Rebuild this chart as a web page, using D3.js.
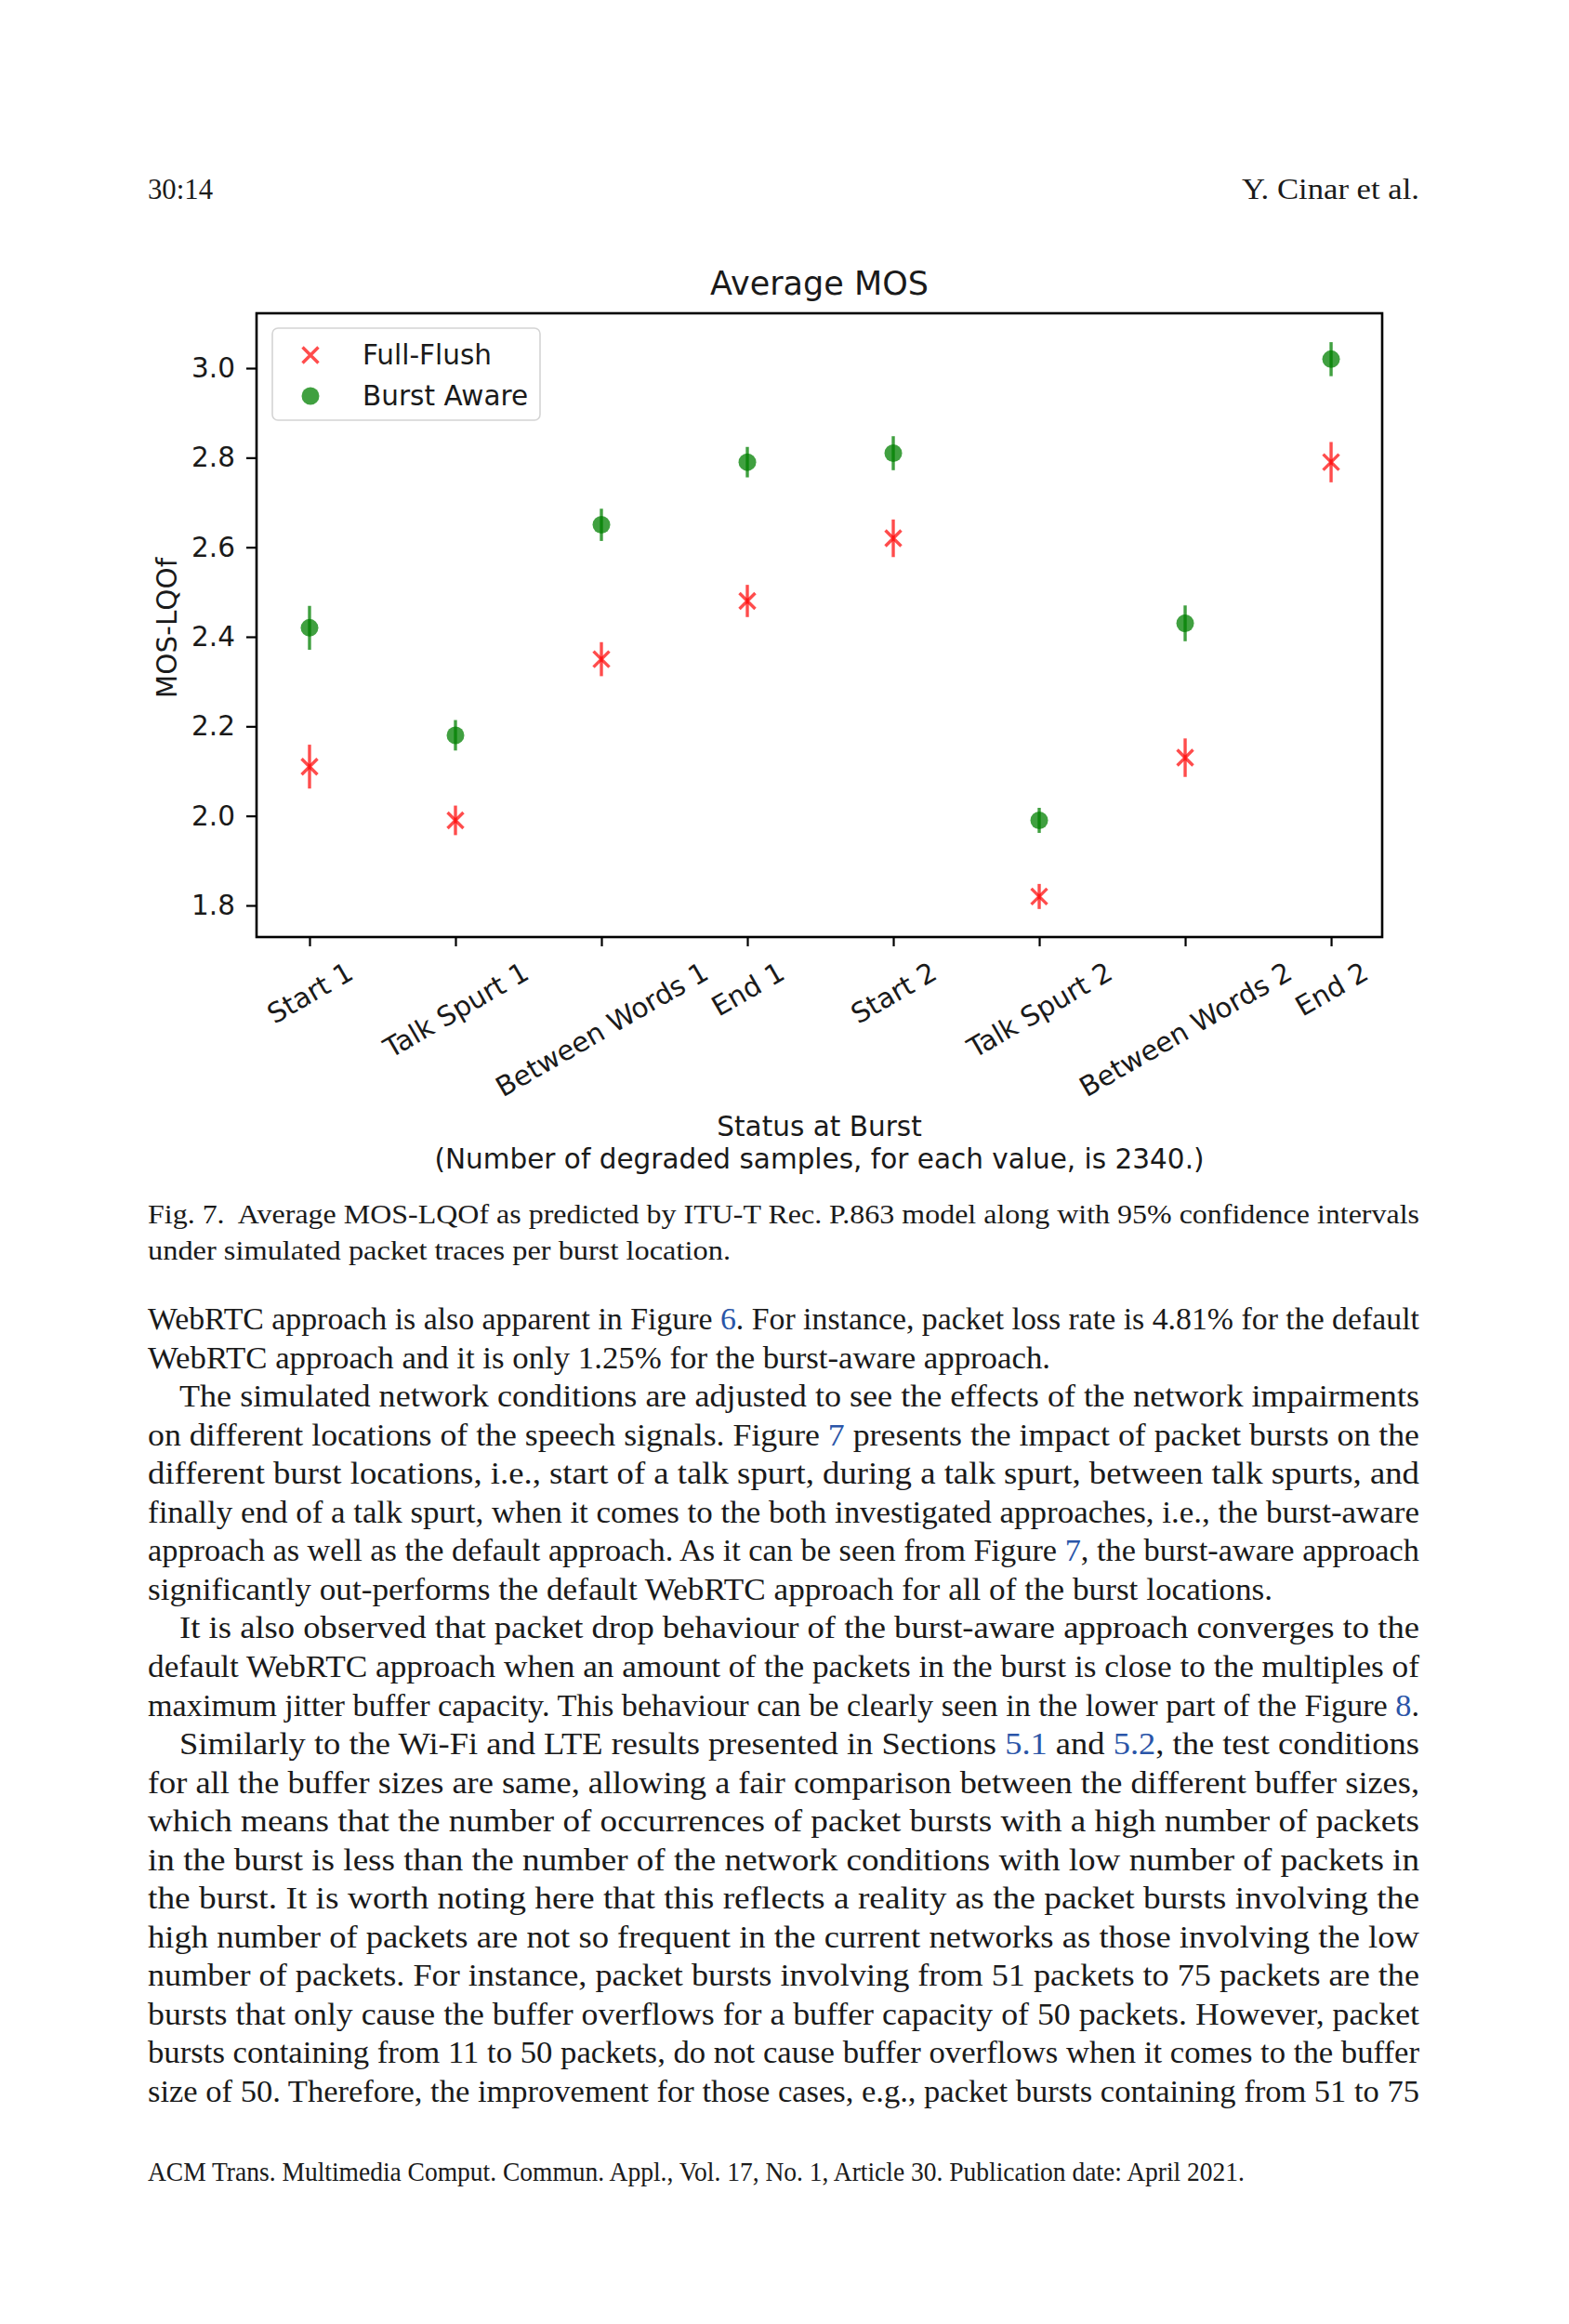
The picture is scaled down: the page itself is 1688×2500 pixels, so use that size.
<!DOCTYPE html>
<html>
<head>
<meta charset="utf-8">
<script src="https://cdn.jsdelivr.net/npm/d3@7"></script>
<style>
  html, body { margin: 0; padding: 0; background: #fff; }
  svg { display: block; }
</style>
</head>
<body>
<script>
// values
const categories = ['Start 1', 'Talk Spurt 1', 'Between Words 1', 'End 1',
                    'Start 2', 'Talk Spurt 2', 'Between Words 2', 'End 2'];
const fullFlushMean  = [2.11, 1.99, 2.35, 2.48, 2.62, 1.82, 2.13, 2.79];
const fullFlushCI    = [0.049, 0.033, 0.038, 0.036, 0.042, 0.028, 0.043, 0.045];
const burstAwareMean = [2.42, 2.18, 2.65, 2.79, 2.81, 1.99, 2.43, 3.02];
const burstAwareCI   = [0.049, 0.034, 0.036, 0.034, 0.038, 0.028, 0.040, 0.038];
const yTicks = [1.8, 2.0, 2.2, 2.4, 2.6, 2.8, 3.0];
const seriesNames = ['Full-Flush', 'Burst Aware'];

// page text, {..} = blue link
const bodyLines = [
    ['WebRTC approach is also apparent in Figure {6}. For instance, packet loss rate is 4.81% for the default', 0, null],
    ['WebRTC approach and it is only 1.25% for the burst-aware approach.', 0, 971],
    ['The simulated network conditions are adjusted to see the effects of the network impairments', 1, null],
    ['on different locations of the speech signals. Figure {7} presents the impact of packet bursts on the', 0, null],
    ['different burst locations, i.e., start of a talk spurt, during a talk spurt, between talk spurts, and', 0, null],
    ['finally end of a talk spurt, when it comes to the both investigated approaches, i.e., the burst-aware', 0, null],
    ['approach as well as the default approach. As it can be seen from Figure {7}, the burst-aware approach', 0, null],
    ['significantly out-performs the default WebRTC approach for all of the burst locations.', 0, 1210],
    ['It is also observed that packet drop behaviour of the burst-aware approach converges to the', 1, null],
    ['default WebRTC approach when an amount of the packets in the burst is close to the multiples of', 0, null],
    ['maximum jitter buffer capacity. This behaviour can be clearly seen in the lower part of the Figure {8}.', 0, null],
    ['Similarly to the Wi-Fi and LTE results presented in Sections {5.1} and {5.2}, the test conditions', 1, null],
    ['for all the buffer sizes are same, allowing a fair comparison between the different buffer sizes,', 0, null],
    ['which means that the number of occurrences of packet bursts with a high number of packets', 0, null],
    ['in the burst is less than the number of the network conditions with low number of packets in', 0, null],
    ['the burst. It is worth noting here that this reflects a reality as the packet bursts involving the', 0, null],
    ['high number of packets are not so frequent in the current networks as those involving the low', 0, null],
    ['number of packets. For instance, packet bursts involving from 51 packets to 75 packets are the', 0, null],
    ['bursts that only cause the buffer overflows for a buffer capacity of 50 packets. However, packet', 0, null],
    ['bursts containing from 11 to 50 packets, do not cause buffer overflows when it comes to the buffer', 0, null],
    ['size of 50. Therefore, the improvement for those cases, e.g., packet bursts containing from 51 to 75', 0, null]
];
const captionLines = [
    ['Fig. 7.  Average MOS-LQOf as predicted by ITU-T Rec. P.863 model along with 95% confidence intervals', null],
    ['under simulated packet traces per burst location.', 627]
];

const W = 1688, H = 2500;
const textLeft = 159, textRight = 1527, indent = 34;
const serif = "'Liberation Serif', 'DejaVu Serif', serif";
const sans = "'DejaVu Sans', sans-serif";
const linkBlue = '#2a55a8';

const svg = d3.select('body').append('svg')
    .attr('width', W)
    .attr('height', H);

svg.append('rect').attr('width', W).attr('height', H).attr('fill', '#fff');

function writeLine (x, y, str, size, length, anchor) {
    let t = svg.append('text')
        .attr('x', x)
        .attr('y', y)
        .attr('font-family', serif)
        .attr('font-size', size)
        .attr('fill', '#1a1a1a')
        .attr('text-anchor', anchor || 'start')
        .style('white-space', 'pre');
    str.split(/(\{[^}]*\})/).forEach(part => {
        if (!part) return;
        if (part[0] === '{') {
            t.append('tspan').attr('fill', linkBlue).text(part.slice(1, -1));
        } else {
            t.append('tspan').text(part);
        }
    });
    if (length) {
        t.attr('textLength', length).attr('lengthAdjust', 'spacingAndGlyphs');
    }
    return t;
}

// running head
writeLine(textLeft, 214, '30:14', 31, 70);
writeLine(textRight, 214, 'Y. Cinar et al.', 31, 191, 'end');

// ---------------- chart ----------------
const plot = { left: 276, right: 1487, top: 337, bottom: 1008 };

let x = d3.scaleLinear()
    .domain([-0.363, 7.35])
    .range([plot.left, plot.right]);

let y = d3.scaleLinear()
    .domain([1.7294, 3.1225])
    .range([plot.bottom, plot.top]);

let chart = svg.append('g');

chart.append('text')
    .attr('x', (plot.left + plot.right) / 2)
    .attr('y', 317)
    .attr('text-anchor', 'middle')
    .attr('font-family', sans)
    .attr('font-size', 35)
    .attr('fill', '#1a1a1a')
    .text('Average MOS');

// y axis
let yAxis = chart.append('g')
    .attr('transform', `translate(${plot.left},0)`)
    .call(d3.axisLeft(y).tickValues(yTicks).tickFormat(d3.format('.1f')).tickSize(11).tickPadding(12));
yAxis.select('.domain').remove();
yAxis.selectAll('line').attr('stroke', '#000').attr('stroke-width', 2.2);
yAxis.selectAll('text')
    .attr('font-family', sans)
    .attr('font-size', 29.5)
    .attr('fill', '#1a1a1a');

// x axis
let xAxis = chart.append('g')
    .attr('transform', `translate(0,${plot.bottom})`)
    .call(d3.axisBottom(x).tickValues(d3.range(categories.length)).tickFormat(i => categories[i]).tickSize(10));
xAxis.select('.domain').remove();
xAxis.selectAll('line').attr('stroke', '#000').attr('stroke-width', 2.2);
xAxis.selectAll('text')
    .attr('font-family', sans)
    .attr('font-size', 29.5)
    .attr('fill', '#1a1a1a')
    .attr('text-anchor', 'middle')
    .attr('y', null)
    .attr('dy', '0.35em')
    .each(function () {
        // rotated 30deg, bounding box centred under tick (matplotlib style)
        let w = this.getComputedTextLength();
        let h = 29.5 * 1.17;
        let boxH = w * 0.5 + h * 0.866;
        d3.select(this).attr('transform', `translate(0,${20 + boxH / 2}) rotate(-30)`);
    });

// frame
chart.append('rect')
    .attr('x', plot.left)
    .attr('y', plot.top)
    .attr('width', plot.right - plot.left)
    .attr('height', plot.bottom - plot.top)
    .attr('fill', 'none')
    .attr('stroke', '#000')
    .attr('stroke-width', 2.6);

// axis titles
chart.append('text')
    .attr('transform', `translate(180,${(plot.top + plot.bottom) / 2 + 3}) rotate(-90)`)
    .attr('text-anchor', 'middle')
    .attr('dy', '0.35em')
    .attr('font-family', sans)
    .attr('font-size', 29.5)
    .attr('fill', '#1a1a1a')
    .text('MOS-LQOf');

let xLabel = chart.append('text')
    .attr('x', (plot.left + plot.right) / 2)
    .attr('y', 1222)
    .attr('text-anchor', 'middle')
    .attr('font-family', sans)
    .attr('font-size', 29.5)
    .attr('fill', '#1a1a1a');
xLabel.append('tspan').attr('x', (plot.left + plot.right) / 2).text('Status at Burst');
xLabel.append('tspan').attr('x', (plot.left + plot.right) / 2).attr('dy', 35)
    .text('(Number of degraded samples, for each value, is 2340.)');

// marks
const red = '#ff0000', green = '#008000';

function crossPath (cx, cy, r) {
    return `M${cx - r},${cy - r}L${cx + r},${cy + r}M${cx - r},${cy + r}L${cx + r},${cy - r}`;
}

let ff = chart.append('g');
fullFlushMean.forEach((m, i) => {
    ff.append('line')
        .attr('x1', x(i)).attr('x2', x(i))
        .attr('y1', y(m - fullFlushCI[i])).attr('y2', y(m + fullFlushCI[i]))
        .attr('stroke', red).attr('stroke-opacity', 0.7).attr('stroke-width', 3.4);
    ff.append('path')
        .attr('d', crossPath(x(i), y(m), 8.5))
        .attr('stroke', red).attr('stroke-opacity', 0.7).attr('stroke-width', 3.4)
        .attr('fill', 'none');
});

let ba = chart.append('g');
burstAwareMean.forEach((m, i) => {
    ba.append('line')
        .attr('x1', x(i)).attr('x2', x(i))
        .attr('y1', y(m - burstAwareCI[i])).attr('y2', y(m + burstAwareCI[i]))
        .attr('stroke', green).attr('stroke-opacity', 0.75).attr('stroke-width', 3.4);
    ba.append('circle')
        .attr('cx', x(i)).attr('cy', y(m)).attr('r', 9.5)
        .attr('fill', green).attr('fill-opacity', 0.75);
});

// legend
let legend = chart.append('g');
legend.append('rect')
    .attr('x', 293).attr('y', 353)
    .attr('width', 288).attr('height', 99)
    .attr('rx', 6)
    .attr('fill', '#fff').attr('fill-opacity', 0.8)
    .attr('stroke', '#d4d4d4').attr('stroke-width', 1.6);

seriesNames.forEach((name, k) => {
    let ly = 382 + k * 44;
    if (k === 0) {
        legend.append('path')
            .attr('d', crossPath(334, ly, 8.5))
            .attr('stroke', red).attr('stroke-opacity', 0.7).attr('stroke-width', 3.4)
            .attr('fill', 'none');
    } else {
        legend.append('circle')
            .attr('cx', 334).attr('cy', ly).attr('r', 9.5)
            .attr('fill', green).attr('fill-opacity', 0.75);
    }
    legend.append('text')
        .attr('x', 390).attr('y', ly)
        .attr('dy', '0.35em')
        .attr('font-family', sans)
        .attr('font-size', 29.5)
        .attr('fill', '#1a1a1a')
        .text(name);
});

// ---------------- caption & body ----------------
captionLines.forEach((c, i) => {
    writeLine(textLeft, 1316 + i * 39, c[0], 30, c[1] || (textRight - textLeft));
});

bodyLines.forEach((b, i) => {
    let x0 = textLeft + (b[1] ? indent : 0);
    let len = b[2] || (textRight - x0);
    writeLine(x0, 1430 + i * 41.55, b[0], 33, len);
});

writeLine(textLeft, 2346, 'ACM Trans. Multimedia Comput. Commun. Appl., Vol. 17, No. 1, Article 30. Publication date: April 2021.', 29, 1180);
</script>
</body>
</html>
